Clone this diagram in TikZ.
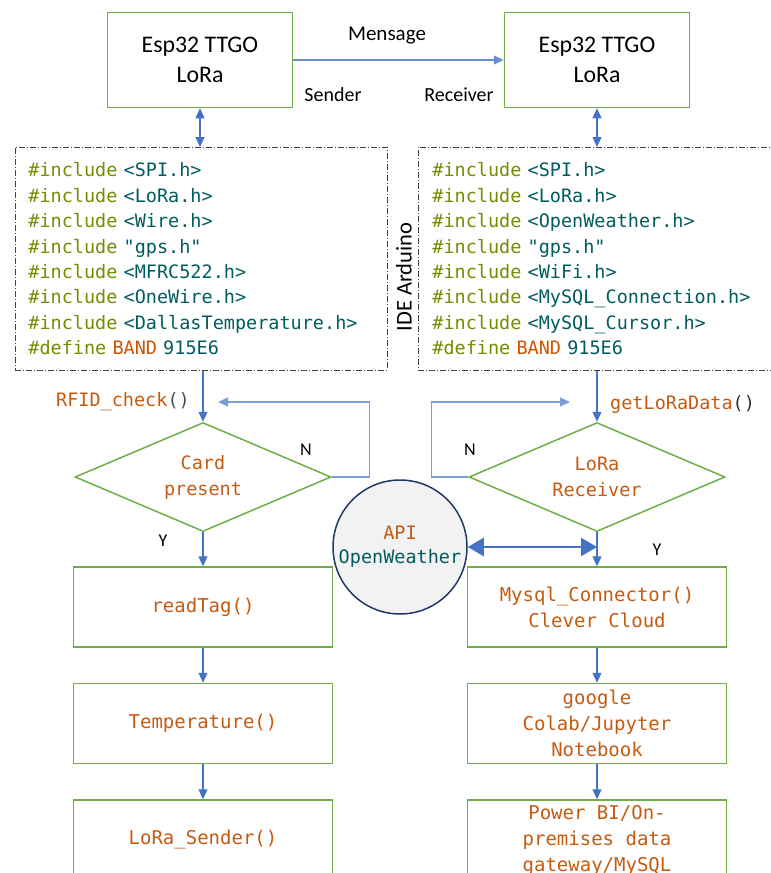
\documentclass[tikz,border=0pt]{standalone}
\usepackage{fontspec}
\setmainfont{Carlito}
\setmonofont{DejaVu Sans Mono}
\usepackage{xcolor}
\usepackage{tikz}
\usetikzlibrary{positioning,arrows.meta,shapes.geometric}
\definecolor{boxgreen}{RGB}{112,173,71}
\definecolor{flowblue}{RGB}{68,114,196}
\definecolor{fnorange}{RGB}{197,90,17}
\definecolor{incolive}{RGB}{114,142,0}
\definecolor{codeteal}{RGB}{0,92,95}
\definecolor{bandorange}{RGB}{211,84,0}
\definecolor{apinavy}{RGB}{31,56,100}
\newcommand{\inc}[1]{{\color{incolive}\#include} {\color{codeteal}#1}\\}
\newcommand{\band}{{\color{incolive}\#define} {\color{bandorange}BAND} {\color{codeteal}915E6}}

\begin{document}
\begin{tikzpicture}[x=1pt, y=-1pt, node distance=35pt and 0pt, every node/.style={inner sep=0pt},
  espbox/.style={draw=boxgreen, line width=1.5pt, minimum width=185pt, minimum height=95pt, align=center, font=\fontsize{23.8}{30}\selectfont},
  codebox/.style={draw=black!75, line width=.8pt, dash pattern=on 6pt off 2pt on 1pt off 2pt, anchor=north west, minimum height=223pt, align=left, inner xsep=13pt, font=\ttfamily\fontsize{18.5}{25.4}\selectfont},
  decision/.style={diamond, aspect=2.3, draw=boxgreen, line width=1.5pt, minimum width=256pt, minimum height=109pt, align=center, text=fnorange, font=\ttfamily\fontsize{18.5}{26}\selectfont},
  fnbox/.style={draw=boxgreen, line width=1.5pt, minimum width=259pt, minimum height=80pt, align=center, text=fnorange, font=\ttfamily\fontsize{19}{26}\selectfont},
  lbl/.style={font=\fontsize{18}{20}\selectfont},
  flowarrow/.style={-{Triangle[length=10pt,width=9pt]}, flowblue, line width=1.2pt},
  linkarrow/.style={{Triangle[length=10pt,width=9pt]}-{Triangle[length=10pt,width=9pt]}, flowblue, line width=1.2pt},
  apiarrow/.style={{Triangle[length=16pt,width=18pt]}-{Triangle[length=16pt,width=18pt]}, flowblue, line width=2.5pt}]
  \clip (0,0) rectangle (771,873);
  \node[espbox] (snd) at (200,60) {Esp32 TTGO\\LoRa};
  \node[espbox] (rcv) at (597,60) {Esp32 TTGO\\LoRa};
  \node[lbl, font=\fontsize{21}{24}\selectfont] (msg) at (387,36) {Mensage};
  \node[lbl, font=\fontsize{20}{24}\selectfont] (sl) at (333,95) {Sender};
  \node[lbl, font=\fontsize{20}{24}\selectfont] (rl) at (459,95) {Receiver};
  \node[codebox, text width=346pt] (sc) at (15,147) {\inc{<SPI.h>}\inc{<LoRa.h>}\inc{<Wire.h>}\inc{"gps.h"}\inc{<MFRC522.h>}\inc{<OneWire.h>}\inc{<DallasTemperature.h>}\band};
  \node[codebox, text width=332pt, inner xsep=14pt] (rc) at (418,147) {\inc{<SPI.h>}\inc{<LoRa.h>}\inc{<OpenWeather.h>}\inc{"gps.h"}\inc{<WiFi.h>}\inc{<MySQL\_Connection.h>}\inc{<MySQL\_Cursor.h>}\band};
  \node[lbl, font=\fontsize{22.5}{24}\selectfont, rotate=90] (ide) at (404,277) {IDE Arduino};
  \node[decision] (cp) at (203,477) {Card\\present};
  \node[decision] (lr) at (597,477) {LoRa\\Receiver};
  \node[anchor=east, font=\ttfamily\fontsize{18.5}{22}\selectfont, text=black!70] (rfid) at (190,402) {{\color{fnorange}RFID\_check}()};
  \node[anchor=west, font=\ttfamily\fontsize{18.5}{22}\selectfont, text=black!80] (gld) at (610,404) {{\color{fnorange}getLoRaData}()};
  \node[lbl] (nl) at (306,450) {N};
  \node[lbl] (nr) at (470,450) {N};
  \node[lbl] (yl) at (163,541) {Y};
  \node[lbl] (yr) at (657,550) {Y};
  \node[circle, draw=apinavy, line width=1.5pt, fill=black!5, minimum size=134pt, align=center, font=\ttfamily\fontsize{18.5}{24}\selectfont] (api) at (400,547) {{\color{fnorange}API}\\{\color{codeteal}OpenWeather}};
  \node[fnbox] (tag) at (203,607) {readTag()};
  \node[fnbox, below=of tag] (tmp) {Temperature()};
  \node[fnbox, below=of tmp] (ls) {LoRa\_Sender()};
  \node[fnbox] (sql) at (597,607) {Mysql\_Connector()\\Clever Cloud};
  \node[fnbox, below=of sql] (nb) {google\\Colab/Jupyter\\Notebook};
  \node[fnbox, below=of nb] (bi) {Power BI/On-\\premises data\\gateway/MySQL};
  \coordinate (cpin) at (218,402);
  \coordinate (lrin) at (570,402);
  \draw[flowarrow, flowblue!80] (snd.east) -- (rcv.west);
  \draw[linkarrow] (snd.south) -- (snd.south |- sc.north);
  \draw[linkarrow] (rcv.south) -- (rcv.south |- rc.north);
  \draw[flowarrow] (sc.south -| cp.north) -- (cp.north);
  \draw[flowarrow] (rc.south -| lr.north) -- (lr.north);
  \draw[flowarrow, flowblue!70] (cp.east) -- ++(38,0) |- (cpin);
  \draw[flowarrow, flowblue!70] (lr.west) -- ++(-37,0) |- (lrin);
  \draw[flowarrow] (cp.south) -- (tag.north);
  \draw[flowarrow] (tag) -- (tmp);
  \draw[flowarrow] (tmp) -- (ls);
  \draw[flowarrow] (lr.south) -- (sql.north);
  \draw[flowarrow] (sql) -- (nb);
  \draw[flowarrow] (nb) -- (bi);
  \draw[apiarrow] (api.east) -- (api.east -| lr.south);
\end{tikzpicture}
\end{document}
